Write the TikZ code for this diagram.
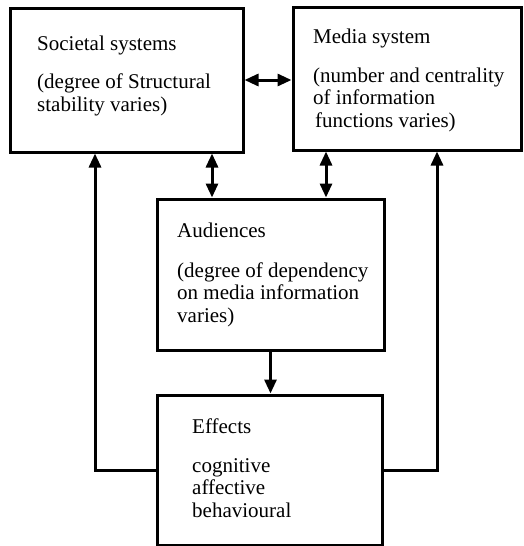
\documentclass[tikz,border=0pt]{standalone}
\usepackage{fontspec}
\setmainfont{Liberation Serif}
\usetikzlibrary{arrows.meta}

\begin{document}
\begin{tikzpicture}[x=1pt,y=-1pt]
		\useasboundingbox (0,0) rectangle (523,546);
		\begin{scope}[every node/.style={rectangle,draw,line width=3pt,inner sep=0pt}]
			\node[minimum width=233pt,minimum height=144pt] (soc) at (126.5,80) {};
			\node[minimum width=228pt,minimum height=143pt] (med) at (407,78.5) {};
			\node[minimum width=227pt,minimum height=151pt] (aud) at (270.5,274.5) {};
			\node[minimum width=225pt,minimum height=150pt] (eff) at (269.5,470) {};
		\end{scope}

		% multi-line texts sit on the baseline of their last line
		\begin{scope}[every node/.style={anchor=base west,align=left,inner sep=0pt,
		              font=\fontsize{21}{22.5}\selectfont}]
			\node (soc-title) at (37,50) {Societal systems};
			\node (soc-text) at (37,111) {(degree of Structural\\stability varies)};
			\node (med-title) at (313,43) {Media system};
			\node (med-text) at (313,127) {(number and centrality\\of information\\\hspace*{2pt}functions varies)};
			\node (aud-title) at (177,237) {Audiences};
			\node (aud-text) at (177,322) {(degree of dependency\\on media information\\varies)};
			\node (eff-title) at (192,433) {Effects};
			\node (eff-text) at (192,517) {cognitive\\affective\\behavioural};
		\end{scope}

		\coordinate (fl) at (95,0);
		\coordinate (sa) at (212,0);
		\coordinate (ma) at (326,0);
		\coordinate (fr) at (437,0);

		\begin{scope}[>={Triangle[length=14pt,width=12pt]},line width=3pt]
			\draw[<->] (soc.east) -- (soc.east -| med.west);
			\draw[<->] (sa |- soc.south) -- (sa |- aud.north);
			\draw[<->] (ma |- med.south) -- (ma |- aud.north);
			\draw[->] (aud.south) -- (aud.south |- eff.north);
			\draw[->] (eff.west) -| (fl |- soc.south);
			\draw[->] (eff.east) -| (fr |- med.south);
		\end{scope}
\end{tikzpicture}
\end{document}
